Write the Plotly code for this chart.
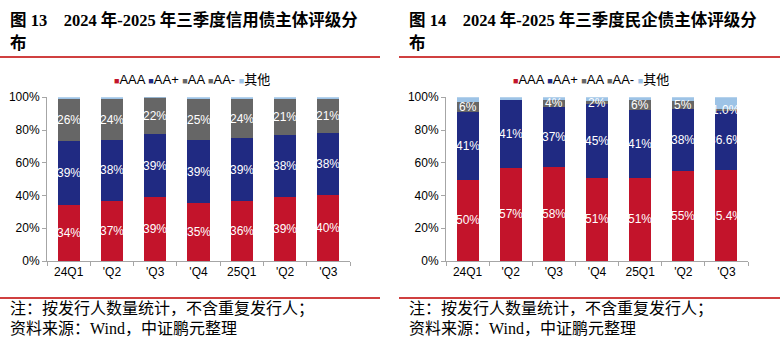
import plotly.graph_objects as go

# ---------------- data ----------------
quarters = ["24Q1", "'Q2", "'Q3", "'Q4", "25Q1", "'Q2", "'Q3"]
series_names = ["AAA", "AA+", "AA", "AA-", "其他"]
y_ticks = [0, 20, 40, 60, 80, 100]

# Figure 13: credit bonds
c1_aaa = [34.4, 36.6, 39.0, 35.3, 36.4, 39.4, 40.1]
c1_aap = [38.6, 37.6, 38.6, 38.6, 38.6, 37.8, 37.8]
c1_aa = [25.7, 24.4, 21.8, 24.6, 23.7, 21.3, 20.8]
c1_aam = [0.2, 0.2, 0.2, 0.2, 0.2, 0.2, 0.2]
c1_other = [1.1, 1.2, 0.4, 1.3, 1.1, 1.3, 1.1]
c1_decimals = [0, 0, 0, 0, 0, 0, 0]

# Figure 14: private-enterprise bonds
c2_aaa = [49.6, 56.9, 57.6, 50.8, 50.8, 55.1, 55.4]
c2_aap = [41.4, 41.4, 36.6, 44.9, 41.2, 38.0, 36.6]
c2_aa = [6.3, 0.0, 4.3, 2.1, 6.4, 4.7, 1.0]
c2_aam = [0.0, 0.0, 0.0, 0.0, 0.0, 0.0, 0.0]
c2_other = [2.7, 1.7, 1.5, 2.2, 1.6, 2.2, 7.0]
c2_decimals = [0, 0, 0, 0, 0, 0, 1]

titles = ["图 13\u00a0\u00a0\u00a0\u00a02024 年-2025 年三季度信用债主体评级分",
          "图 14\u00a0\u00a0\u00a0\u00a02024 年-2025 年三季度民企债主体评级分"]
title_tail = "布"
note_line1 = "注：按发行人数量统计，不含重复发行人；"
note_line2 = "资料来源：Wind，中证鹏元整理"

colors = ["#C3142B", "#202A82", "#666666", "#666666", "#9DC3E6"]
W, H = 783, 353

xpos = list(range(len(quarters)))
fig = go.Figure()

charts = [
    (["x", "y"], [c1_aaa, c1_aap, c1_aa, c1_aam, c1_other], c1_decimals),
    (["x2", "y2"], [c2_aaa, c2_aap, c2_aa, c2_aam, c2_other], c2_decimals),
]

annotations = []
for ci, ((xa, ya), series, decs) in enumerate(charts):
    for si, (name, vals) in enumerate(zip(series_names, series)):
        fig.add_trace(go.Bar(
            x=xpos, y=vals, name=name, xaxis=xa, yaxis=ya, width=0.51,
            marker=dict(color=colors[si], line=dict(width=0)),
            showlegend=False, hoverinfo="skip",
        ))
    for k in range(len(quarters)):
        base = 0.0
        for si in range(3):
            v = series[si][k]
            if v > 0:
                txt = f"{v:.{decs[k]}f}%"
                annotations.append(dict(
                    x=xpos[k], y=base + v / 2, xref=xa, yref=ya,
                    text=txt, showarrow=False,
                    font=dict(family="Liberation Sans, Arial", size=12, color="white"),
                ))
            base += v

tickfont = dict(family="Liberation Sans, Arial", size=12, color="#000")
xaxis_common = dict(showgrid=False, zeroline=False, showline=True,
                    linecolor="#A6A6A6", linewidth=1, range=[-0.5, len(quarters) - 0.5],
                    tickvals=xpos, ticktext=quarters, ticks="",
                    minor=dict(tickvals=[i - 0.5 for i in range(len(quarters) + 1)],
                               ticks="outside", ticklen=4, tickcolor="#A6A6A6"),
                    tickfont=tickfont)
yaxis_common = dict(showgrid=False, zeroline=False, showline=True,
                    linecolor="#A6A6A6", linewidth=1, ticks="outside",
                    tickcolor="#A6A6A6", ticklen=4, range=[0, 100],
                    tickvals=y_ticks, ticktext=[f"{t}%" for t in y_ticks],
                    tickfont=tickfont)

y_dom = [(H - 264.5) / H, (H - 94) / H]
fig.update_layout(
    barmode="stack",
    width=W, height=H, margin=dict(l=0, r=0, t=0, b=0),
    paper_bgcolor="white", plot_bgcolor="white",
    xaxis=dict(domain=[47 / W, 350 / W], anchor="y", **xaxis_common),
    yaxis=dict(domain=y_dom, anchor="x", **yaxis_common),
    xaxis2=dict(domain=[446 / W, 748 / W], anchor="y2", **xaxis_common),
    yaxis2=dict(domain=y_dom, anchor="x2", **yaxis_common),
)

# legends (text with coloured squares)
legend_parts = []
for name, col in zip(series_names, colors):
    legend_parts.append(f"<span style='color:{col};font-size:9px'>■</span>{name}")
legend_text = " ".join(legend_parts)
for cx in (192, 591):
    annotations.append(dict(
        x=cx / W, y=1 - 75 / H, xref="paper", yref="paper", xanchor="center", yanchor="middle",
        text=legend_text, showarrow=False,
        font=dict(family="Liberation Sans, Arial, DejaVu Sans, Noto Sans CJK SC", size=13, color="#000"),
    ))

serif = "Times New Roman, Liberation Serif, Noto Sans CJK SC"
for x0, t in ((8, titles[0]), (407, titles[1])):
    annotations.append(dict(x=x0 / W, y=1 - 14 / H, xref="paper", yref="paper",
                            xanchor="left", yanchor="middle", showarrow=False,
                            text=f"<b>{t}</b>", font=dict(family=serif, size=16.5, color="#000")))
    annotations.append(dict(x=x0 / W, y=1 - 38 / H, xref="paper", yref="paper",
                            xanchor="left", yanchor="middle", showarrow=False,
                            text=f"<b>{title_tail}</b>", font=dict(family=serif, size=16.5, color="#000")))
    annotations.append(dict(x=x0 / W, y=1 - 314 / H, xref="paper", yref="paper",
                            xanchor="left", yanchor="middle", showarrow=False,
                            text=note_line1, font=dict(family=serif, size=16, color="#000")))
    annotations.append(dict(x=x0 / W, y=1 - 335 / H, xref="paper", yref="paper",
                            xanchor="left", yanchor="middle", showarrow=False,
                            text=note_line2, font=dict(family=serif, size=16, color="#000")))

shapes = []
for (xa, xb) in ((0, 380), (399, 780)):
    for yy in (52, 303):
        shapes.append(dict(type="line", xref="paper", yref="paper",
                           x0=xa / W, x1=xb / W, y0=1 - yy / H, y1=1 - yy / H,
                           line=dict(color="#C00000", width=1.5)))

fig.update_layout(annotations=annotations, shapes=shapes)
fig.write_html("out.html")
